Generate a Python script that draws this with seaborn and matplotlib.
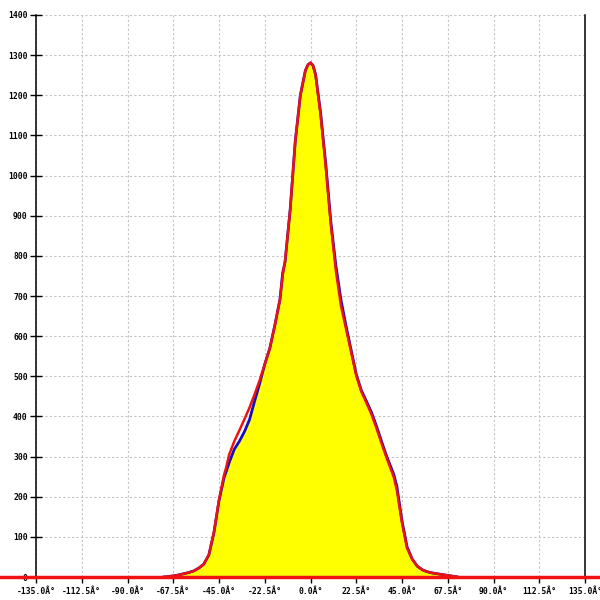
import numpy as np
import pandas as pd
import matplotlib
matplotlib.use("Agg")
import matplotlib.pyplot as plt
import seaborn as sns

# angle bins (degrees)
angles = [-72.5, -70, -67.5, -65, -62.5, -60, -57.5, -55, -52.5, -50, -47.5, -45,
          -42.5, -41.5, -40, -37.5, -35, -32.5, -30, -27.5, -25, -22.5, -20,
          -17.5, -15, -13.7, -12.5, -10, -7.5, -5, -2.5, -1.25, 0, 1.25, 2.5,
          5, 7.5, 10, 12.5, 15, 17.5, 20, 22.5, 25, 27.5, 30, 32.5, 35, 37.5,
          40, 41, 42.5, 45, 47.5, 50, 52.5, 55, 57.5, 60, 62.5, 65, 67.5, 70, 72.5]

# measured counts (blue)
counts = [0, 1, 3, 5, 8, 11, 15, 22, 32, 55, 110, 190,
          248, 262, 285, 318, 338, 362, 392, 438, 482, 530, 570,
          628, 692, 757, 785, 915, 1085, 1200, 1262, 1276, 1281, 1274, 1252,
          1155, 1030, 885, 775, 690, 625, 565, 505, 465, 438, 410, 375, 337, 300,
          268, 255, 225, 140, 75, 45, 27, 18, 13, 10, 8, 6, 4, 2, 0]

# fitted curve (red)
fit = [0, 1, 3, 5, 8, 11, 15, 22, 32, 55, 112, 192,
       255, 272, 305, 338, 365, 393, 422, 455, 490, 530, 570,
       628, 692, 752, 788, 915, 1085, 1200, 1262, 1276, 1281, 1274, 1250,
       1150, 1022, 878, 762, 675, 618, 560, 502, 462, 434, 405, 370, 332, 296,
       262, 248, 215, 135, 72, 44, 27, 18, 13, 10, 8, 6, 4, 2, 0]

x_ticks = [-135.0, -112.5, -90.0, -67.5, -45.0, -22.5, 0.0, 22.5, 45.0, 67.5, 90.0, 112.5, 135.0]
x_labels = [f"{v:.1f}\u00c2\u00b0" for v in x_ticks]
y_ticks = list(range(0, 1500, 100))

df = pd.DataFrame({"angle": angles, "count": counts, "fit": fit})

sns.set_style("whitegrid")
plt.rcParams["font.family"] = ["DejaVu Sans Mono", "DejaVu Sans"]

fig = plt.figure(figsize=(6, 6), dpi=100)
ax = fig.add_axes([0.06, 0.0383, 0.915, 0.9367])

ax.fill_between(df["angle"], df["count"], 0, color="#ffff00", linewidth=0, zorder=1)
sns.lineplot(data=df, x="angle", y="count", ax=ax, color="#1010c0", linewidth=2, zorder=2)
sns.lineplot(data=df, x="angle", y="fit", ax=ax, color="#ee1111", linewidth=1.8, zorder=3)

# baseline running across the whole picture
ax.plot([-170, 160], [0, 0], color="#ee1111", linewidth=2.5, clip_on=False, zorder=4)

ax.set_xlim(-135, 135)
ax.set_ylim(0, 1400)
ax.set_xticks(x_ticks)
ax.set_xticklabels(x_labels, fontweight="bold")
ax.set_yticks(y_ticks)
ax.set_yticklabels([str(v) for v in y_ticks], fontweight="bold")
ax.set_xlabel("")
ax.set_ylabel("")

ax.grid(True, color="#c4c4c4", linestyle=(0, (2, 2)), linewidth=0.8)
ax.set_axisbelow(True)
ax.set_facecolor("white")

for side in ["left", "right", "bottom"]:
    ax.spines[side].set_visible(True)
    ax.spines[side].set_color("black")
    ax.spines[side].set_linewidth(1.1)
ax.spines["top"].set_visible(False)

ax.tick_params(axis="y", direction="inout", length=8, width=1, color="black",
               labelsize=5.8, pad=2, left=True, labelcolor="black")
ax.tick_params(axis="x", direction="out", length=4, width=1, color="black",
               labelsize=5.8, pad=3, bottom=True, labelcolor="black")

fig.savefig("out.png", dpi=100)
